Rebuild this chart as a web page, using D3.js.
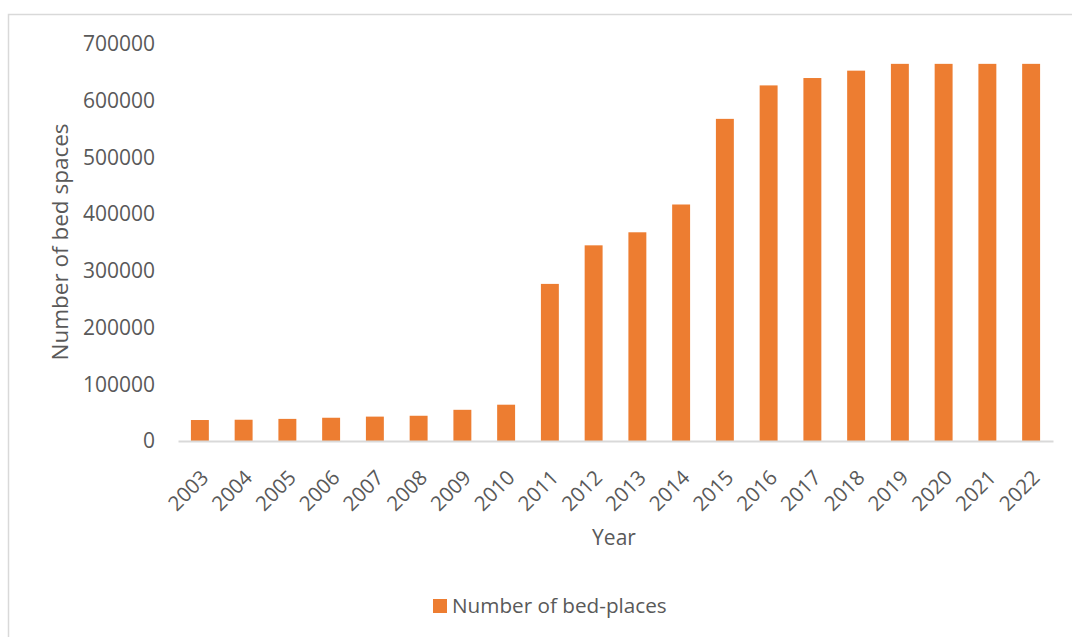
<!DOCTYPE html>
<html><head><meta charset="utf-8">
<script src="https://cdn.jsdelivr.net/npm/d3@7"></script>
<style>body{margin:0;background:#fff}svg{display:block}text{font-family:"Open Sans",sans-serif;fill:#595959}</style>
</head><body>
<script>
const years = ["2003","2004","2005","2006","2007","2008","2009","2010","2011","2012","2013","2014","2015","2016","2017","2018","2019","2020","2021","2022"];
const bedPlaces = [37000,37500,39000,41000,43000,44500,55000,64000,277000,345000,368000,417000,568000,627000,640000,653000,665000,665000,665000,665000];
const yTicks = [0,100000,200000,300000,400000,500000,600000,700000];
const seriesName = "Number of bed-places";

(function(){
const W=1072,H=637;
const svg=d3.select("body").append("svg").attr("width",W).attr("height",H);
svg.append("rect").attr("x",8.5).attr("y",14.5).attr("width",1100).attr("height",700).attr("fill","none").attr("stroke","#d9d9d9").attr("stroke-width",1.5);

const mLeft=178,mRight=1053,mTop=44,mBottom=441;
const x=d3.scaleBand().domain(years).range([mLeft,mRight]).paddingInner(0.59).paddingOuter(0.295);
const y=d3.scaleLinear().domain([0,700000]).range([mBottom,mTop]);

svg.append("g").selectAll("rect").data(bedPlaces).join("rect")
 .attr("x",(d,i)=>x(years[i])).attr("width",x.bandwidth())
 .attr("y",d=>y(d)).attr("height",d=>y(0)-y(d)).attr("fill","#ED7D31");

const xa=svg.append("g").attr("transform",`translate(0,${mBottom})`).call(d3.axisBottom(x).tickSize(0).tickPadding(0));
xa.select(".domain").attr("stroke","#d9d9d9").attr("stroke-width",2);
xa.selectAll("text").attr("font-size",20.5).attr("text-anchor","end").attr("dy",0)
 .attr("transform","translate(10,38) rotate(-45)").style("fill","#595959").style("font-family","Open Sans");

const ya=svg.append("g").attr("transform",`translate(${mLeft},0)`).call(d3.axisLeft(y).tickValues(yTicks).tickFormat(d3.format("d")).tickSize(0).tickPadding(23));
ya.select(".domain").remove();
ya.selectAll("text").attr("font-size",21).style("fill","#595959").style("font-family","Open Sans");

svg.append("text").attr("transform","translate(68,242) rotate(-90)").attr("text-anchor","middle").attr("font-size",22.5).text("Number of bed spaces");
svg.append("text").attr("x",614).attr("y",545).attr("text-anchor","middle").attr("font-size",21).text("Year");

svg.append("rect").attr("x",433).attr("y",599).attr("width",14).attr("height",14).attr("fill","#ED7D31");
svg.append("text").attr("x",452).attr("y",613).attr("font-size",20.7).text(seriesName);
})();
</script>
</body></html>
